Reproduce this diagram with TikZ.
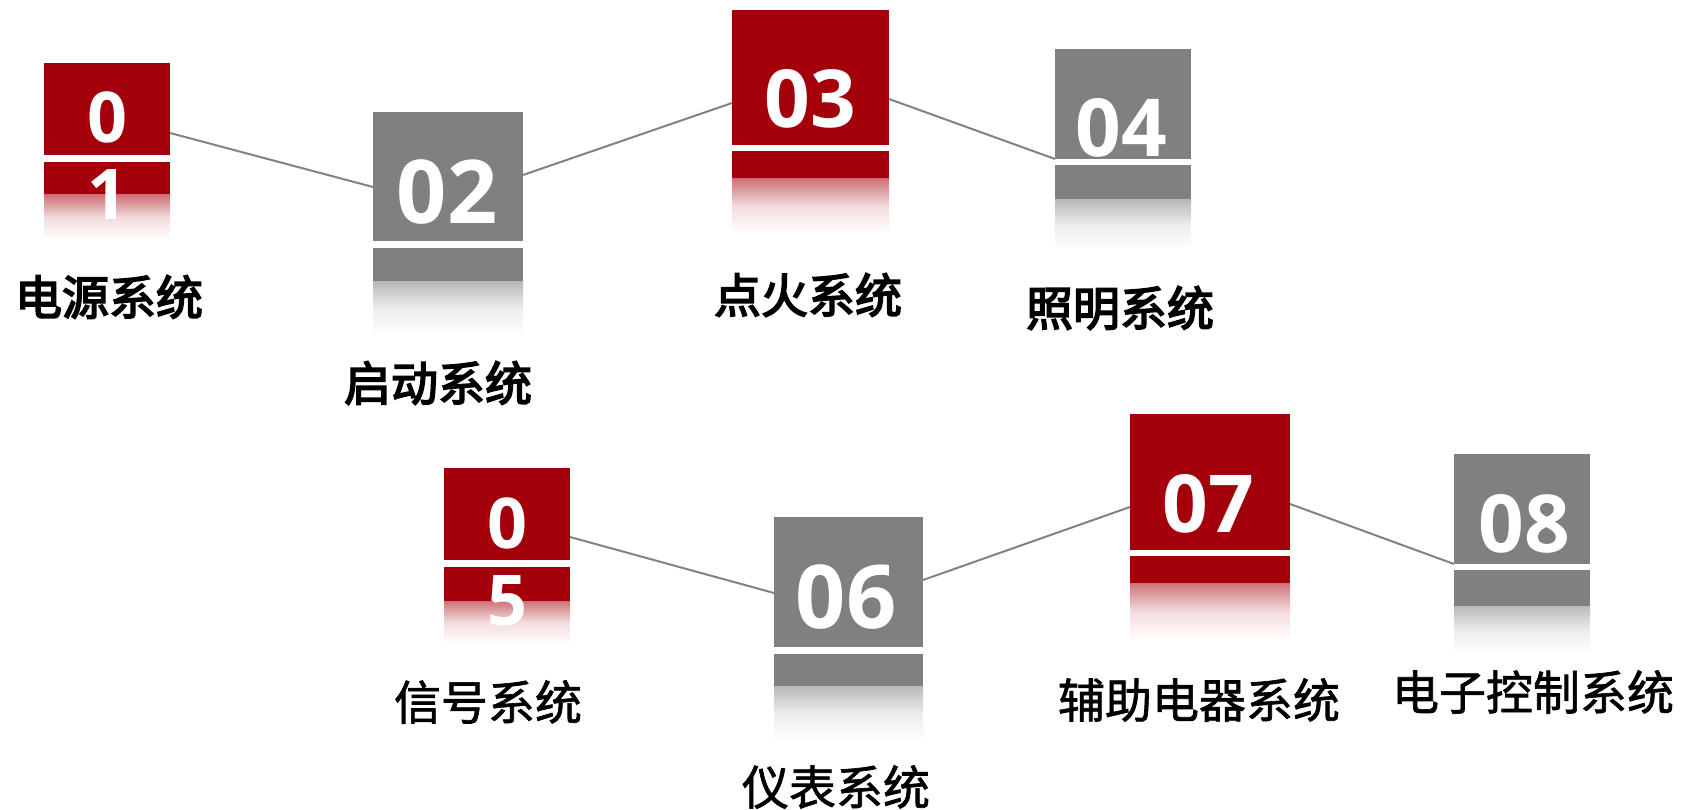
\documentclass[tikz,border=0pt]{standalone}
\usepackage{fontspec}
\setmainfont{Open Sans}
\newfontfamily\cjkt[FakeBold=3.5]{Noto Sans CJK SC}
\newfontfamily\cjkm[FakeBold=1.4]{Noto Sans CJK SC}
\usetikzlibrary{calc}
\definecolor{myred}{RGB}{163,0,12}
\definecolor{mygray}{RGB}{128,128,128}
\definecolor{linegray}{RGB}{130,130,130}
\tikzset{
  blk/.style={fill=#1, draw=none, inner sep=0pt, outer sep=0pt, anchor=north west},
  refl/.style={top color=#1!55, bottom color=white, middle color=#1!14, draw=none},
  conn/.style={draw=linegray, line width=2pt},
  digA/.style={text=white, font=\fontsize{80}{80}\selectfont\bfseries, inner sep=0pt, anchor=base},
  digL/.style={text=white, font=\fontsize{88}{88}\selectfont\bfseries, inner sep=0pt, anchor=base},
  digB/.style={text=white, font=\fontsize{70}{70}\selectfont\bfseries, inner sep=0pt, anchor=base},
  labT/.style={text=black, font=\fontsize{47}{47}\selectfont\cjkt, inner sep=0pt, anchor=center},
  labB/.style={text=black, font=\fontsize{47}{47}\selectfont\cjkm, inner sep=0pt, anchor=center},
}
\begin{document}
\begin{tikzpicture}[x=1pt, y=-1pt]
\useasboundingbox (0,0) rectangle (1682,810);
% ---- box 01
\node[blk=myred, minimum width=126, minimum height=92] (b1) at (44,63) {};
\node[blk=myred, minimum width=126, minimum height=33] (s1) at (44,162) {};
\shade[refl=myred] (s1.south west) rectangle ($(s1.south east)+(0,45)$);
\node[digB] (d1a) at (107,143) {0};
\node[digB] (d1b) at (107,220) {1};
% ---- box 02
\node[blk=mygray, minimum width=150, minimum height=129] (b2) at (373,112) {};
\node[blk=mygray, minimum width=150, minimum height=34] (s2) at (373,248) {};
\shade[refl=mygray] (s2.south west) rectangle ($(s2.south east)+(0,53)$);
\node[digL] (d2) at (447,224) {02};
% ---- box 03
\node[blk=myred, minimum width=157, minimum height=135] (b3) at (732,10) {};
\node[blk=myred, minimum width=157, minimum height=28] (s3) at (732,151) {};
\shade[refl=myred] (s3.south west) rectangle ($(s3.south east)+(0,54)$);
\node[digA] (d3) at (810,128) {03};
% ---- box 04
\node[blk=mygray, minimum width=136, minimum height=110] (b4) at (1055,49) {};
\node[blk=mygray, minimum width=136, minimum height=35] (s4) at (1055,165) {};
\shade[refl=mygray] (s4.south west) rectangle ($(s4.south east)+(0,50)$);
\node[digA] (d4) at (1121,157) {04};
% ---- box 05
\node[blk=myred, minimum width=126, minimum height=92] (b5) at (444,468) {};
\node[blk=myred, minimum width=126, minimum height=34] (s5) at (444,567) {};
\shade[refl=myred] (s5.south west) rectangle ($(s5.south east)+(0,42)$);
\node[digB] (d5a) at (507,548) {0};
\node[digB] (d5b) at (507,625) {5};
% ---- box 06
\node[blk=mygray, minimum width=149, minimum height=130] (b6) at (774,517) {};
\node[blk=mygray, minimum width=149, minimum height=32] (s6) at (774,654) {};
\shade[refl=mygray] (s6.south west) rectangle ($(s6.south east)+(0,56)$);
\node[digL] (d6) at (846,628) {06};
% ---- box 07
\node[blk=myred, minimum width=160, minimum height=136] (b7) at (1130,414) {};
\node[blk=myred, minimum width=160, minimum height=27] (s7) at (1130,556) {};
\shade[refl=myred] (s7.south west) rectangle ($(s7.south east)+(0,57)$);
\node[digA] (d7) at (1208,532) {07};
% ---- box 08
\node[blk=mygray, minimum width=136, minimum height=110] (b8) at (1454,454) {};
\node[blk=mygray, minimum width=136, minimum height=36] (s8) at (1454,570) {};
\shade[refl=mygray] (s8.south west) rectangle ($(s8.south east)+(0,49)$);
\node[digA] (d8) at (1524,552) {08};
% ---- connectors
\draw[conn] (b1.east |- 0,133) -- (b2.west |- 0,187);
\draw[conn] (b2.east |- 0,175) -- (b3.west |- 0,103);
\draw[conn] (b3.east |- 0,99) -- (b4.west |- 0,159);
\draw[conn] (b5.east |- 0,537) -- (b6.west |- 0,593);
\draw[conn] (b6.east |- 0,580) -- (b7.west |- 0,507);
\draw[conn] (b7.east |- 0,504) -- (b8.west |- 0,564);
% ---- labels
\node[labT] (l1) at (109,297) {电源系统};
\node[labT] (l2) at (438,383) {启动系统};
\node[labT] (l3) at (808,295) {点火系统};
\node[labT] (l4) at (1120,308) {照明系统};
\node[labB] (l5) at (488,702) {信号系统};
\node[labB] (l6) at (836,787) {仪表系统};
\node[labB] (l7) at (1199,700) {辅助电器系统};
\node[labB] (l8) at (1533,692) {电子控制系统};
\end{tikzpicture}
\end{document}
